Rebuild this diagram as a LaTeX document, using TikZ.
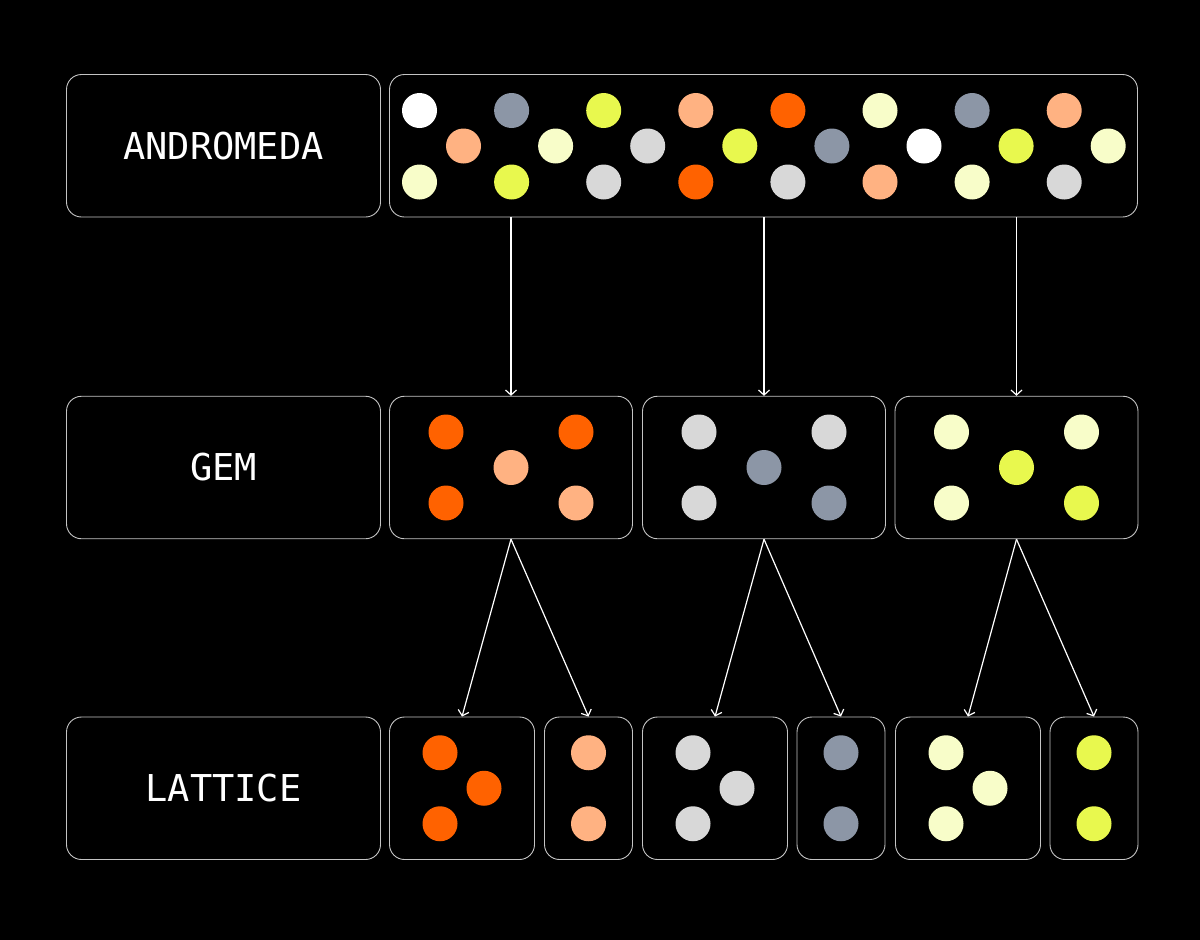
\documentclass[tikz,border=0pt]{standalone}
\usepackage{fontspec}
\setmonofont{DejaVu Sans Mono}
\usepackage{xcolor}
\usepackage{tikz}
\usetikzlibrary{arrows.meta}
\definecolor{OrangeDot}{RGB}{255,98,0}
\definecolor{PeachDot}{RGB}{255,178,130}
\definecolor{SlateDot}{RGB}{140,150,166}
\definecolor{SilverDot}{RGB}{216,216,216}
\definecolor{LimeDot}{RGB}{232,248,78}
\definecolor{CreamDot}{RGB}{248,253,201}
\definecolor{FrameGray}{RGB}{196,196,196}

\begin{document}
\begin{tikzpicture}[x=1pt,y=-1pt,>={Straight Barb[length=5pt,width=11pt]},
  box/.style={draw=FrameGray,line width=0.9pt,rounded corners=15pt,inner sep=0pt,minimum height=142.5pt},
  tag/.style={box,minimum width=314pt,text=white,font=\ttfamily\fontsize{37}{44}\selectfont},
  flow/.style={->,white,line width=1.2pt}]
  \fill[black] (0,0) rectangle (1200,940);

  % row labels
  \node[tag] (andromedaTag) at (223.5,145.75) {ANDROMEDA};
  \node[tag] (gemTag) at (223.5,467.5) {GEM};
  \node[tag] (latticeTag) at (223.5,788.25) {LATTICE};

  % boxes
  \node[box,minimum width=748pt] (andromeda) at (763.5,145.75) {};
  \node[box,minimum width=243pt] (gemA) at (511,467.5) {};
  \node[box,minimum width=243pt] (gemB) at (764,467.5) {};
  \node[box,minimum width=243pt] (gemC) at (1016.5,467.5) {};
  \node[box,minimum width=145pt] (latA) at (462,788.25) {};
  \node[box,minimum width=88pt] (latAs) at (588.5,788.25) {};
  \node[box,minimum width=145pt] (latB) at (715,788.25) {};
  \node[box,minimum width=88pt] (latBs) at (841,788.25) {};
  \node[box,minimum width=145pt] (latC) at (968,788.25) {};
  \node[box,minimum width=88pt] (latCs) at (1094,788.25) {};

  % andromeda dots
  \foreach \c [count=\i from 0] in {white,SlateDot,LimeDot,PeachDot,OrangeDot,CreamDot,SlateDot,PeachDot}
    \fill[\c] (419.5+92.1*\i,110.5) circle (17.5pt);
  \foreach \c [count=\i from 0] in {PeachDot,CreamDot,SilverDot,LimeDot,SlateDot,white,LimeDot,CreamDot}
    \fill[\c] (463.5+92.1*\i,146) circle (17.5pt);
  \foreach \c [count=\i from 0] in {CreamDot,LimeDot,SilverDot,OrangeDot,SilverDot,PeachDot,CreamDot,SilverDot}
    \fill[\c] (419.5+92.1*\i,182) circle (17.5pt);

  % gem and lattice dots
  \foreach \g/\w/\s/\a/\b in {gemA/latA/latAs/OrangeDot/PeachDot,gemB/latB/latBs/SilverDot/SlateDot,gemC/latC/latCs/CreamDot/LimeDot}{
    \begin{scope}[shift={(\g.center)}]
      \fill[\a] (-65,-35.5) circle (17.5pt) (65,-35.5) circle (17.5pt) (-65,35.5) circle (17.5pt);
      \fill[\b] (0,0) circle (17.5pt) (65,35.5) circle (17.5pt);
    \end{scope}
    \begin{scope}[shift={(\w.center)}]
      \fill[\a] (-22,-35.5) circle (17.5pt) (22,0) circle (17.5pt) (-22,35.5) circle (17.5pt);
    \end{scope}
    \begin{scope}[shift={(\s.center)}]
      \fill[\b] (0,-35.5) circle (17.5pt) (0,35.5) circle (17.5pt);
    \end{scope}
    \draw[flow] (andromeda.south -| \g.north) -- (\g.north);
    \draw[flow] (\g.south) -- (\w.north);
    \draw[flow] (\g.south) -- (\s.north);
  }
\end{tikzpicture}
\end{document}
